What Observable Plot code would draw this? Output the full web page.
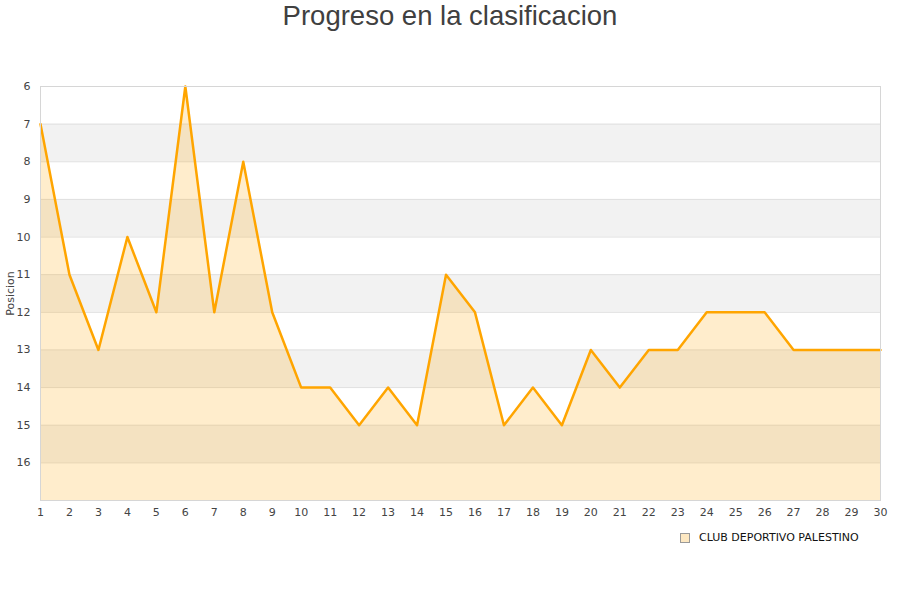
<!DOCTYPE html>
<html>
<head>
<meta charset="utf-8">
<script src="https://cdn.jsdelivr.net/npm/d3@7"></script>
<script src="https://cdn.jsdelivr.net/npm/@observablehq/plot@0.6"></script>
<style>
  body { margin: 0; background: #fff; width: 900px; }
  #title { height: 50px; text-align: center; font-family: "Liberation Sans", Arial, sans-serif; font-size: 27.5px; color: #404040; line-height: 32px; }
  #legend { position: relative; height: 70px; font-family: "DejaVu Sans", sans-serif; font-size: 11px; color: #111; }
  #legend .item { position: absolute; left: 680px; top: 1px; display: flex; align-items: center; }
  #legend .sw { width: 8px; height: 8px; background: #fde8c2; border: 1px solid #999; margin-right: 9px; }
</style>
</head>
<body>
<div id="title">Progreso en la clasificacion</div>
<div id="chart"></div>
<div id="legend"><div class="item"><span class="sw"></span>CLUB DEPORTIVO PALESTINO</div></div>
<script>
// fechas y posiciones
const fechas = d3.range(1, 31)
const posiciones = [7, 11, 13, 10, 12, 6, 12, 8, 12, 14, 14, 15, 14, 15, 11, 12, 15, 14, 15, 13, 14, 13, 13, 12, 12, 12, 13, 13, 13, 13]
const yTicks = [6, 7, 8, 9, 10, 11, 12, 13, 14, 15, 16]
const equipo = "CLUB DEPORTIVO PALESTINO"

let data = fechas.map((f, i) => ({fecha: f, pos: posiciones[i]}))
// bandas grises entre posiciones impares y pares
let bandas = yTicks.filter(t => t % 2 == 1).map(t => ({a: t, b: t + 1}))

let chart = Plot.plot({
  width: 900,
  height: 480,
  marginTop: 36,
  marginBottom: 30,
  marginLeft: 40,
  marginRight: 20,
  x: {domain: [1, 30], ticks: fechas, tickSize: 0, tickPadding: 8, label: null},
  y: {domain: [6, 17], reverse: true, ticks: yTicks, tickSize: 0, tickPadding: 10, label: "Posicion", labelArrow: "none", labelAnchor: "center", labelOffset: 34},
  style: {fontFamily: "DejaVu Sans", fontSize: "11px", color: "#444"},
  marks: [
    Plot.rect(bandas, {x1: 1, x2: 30, y1: "a", y2: "b", fill: "#f2f2f2"}),
    Plot.ruleY(yTicks.concat([17]), {stroke: "#e0e0e0"}),
    Plot.area(data, {x1: "fecha", y1: 17, y2: "pos", fill: "#ffa500", fillOpacity: 0.2}),
    Plot.line(data, {x: "fecha", y: "pos", stroke: "#ffa500", strokeWidth: 2.5}),
    Plot.frame({stroke: "#d6d6d6"})
  ]
})
d3.select("#chart").append(() => chart)
// por si la version no conoce labelArrow
d3.select(chart).selectAll("text").filter(function() { return this.textContent.includes("Posicion") }).text("Posicion")
</script>
</body>
</html>
